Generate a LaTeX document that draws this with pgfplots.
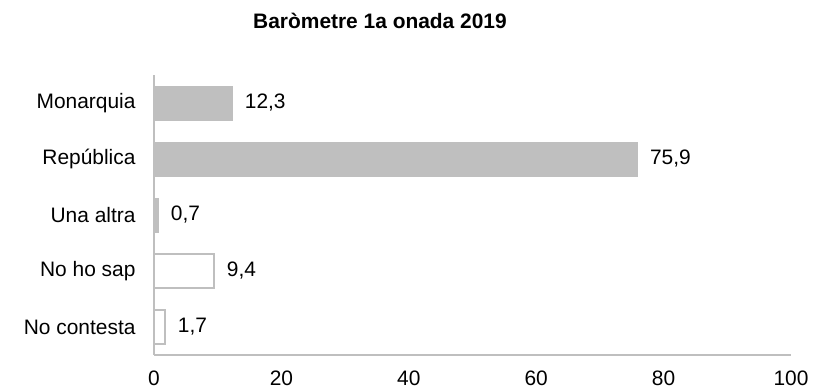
\documentclass[border=0pt]{standalone}
\usepackage{fontspec}
\setmainfont{Liberation Sans}
\usepackage{pgfplots}
\pgfplotsset{compat=1.18}
\definecolor{barfill}{HTML}{BFBFBF}
\definecolor{axgray}{HTML}{BFBFBF}
\begin{document}
\begin{tikzpicture}[x=1bp,y=1bp]
\useasboundingbox (0,0) rectangle (814,390);
\node[font=\fontsize{21}{25}\selectfont\bfseries] at (380,369) {Baròmetre 1a onada 2019};
\begin{axis}[
  at={(154bp,35bp)}, anchor=south west,
  scale only axis, width=637bp, height=280bp,
  xbar, bar width=34bp, bar shift=0pt,
  xmin=0, xmax=100, xtick={0,20,...,100},
  ymin=-0.5, ymax=4.5, y dir=reverse,
  ytick={0,...,4},
  yticklabels={Monarquia,República,Una altra,No ho sap,No contesta},
  axis x line*=bottom, axis y line*=left,
  axis line style={axgray, line width=1.5bp, -},
  major tick length=0pt,
  tick label style={font=\fontsize{21}{25}\selectfont, text=black},
  /pgf/number format/assume math mode=true,
  yticklabel style={xshift=-15bp},
  xticklabel style={yshift=-12bp},
  nodes near coords,
  nodes near coords style={font=\fontsize{21}{25}\selectfont, text=black,
    anchor=west, xshift=9bp,
    /pgf/number format/use comma, /pgf/number format/fixed,
    /pgf/number format/fixed zerofill, /pgf/number format/precision=1},
]
\addplot[fill=barfill, draw=barfill] coordinates {(12.3,0) (75.9,1) (0.7,2)};
\addplot[fill=white, draw=barfill, line width=1.5bp] coordinates {(9.4,3) (1.7,4)};
\end{axis}
\end{tikzpicture}
\end{document}
